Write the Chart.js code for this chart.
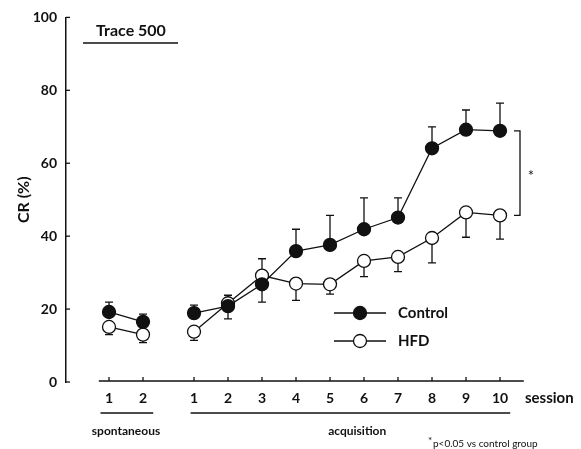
<!DOCTYPE html>
<html>
<head>
<meta charset="utf-8">
<script src="https://cdn.jsdelivr.net/npm/chart.js@4.4.1/dist/chart.umd.min.js"></script>
<style>
  html, body { margin: 0; padding: 0; background: #fff; }
  #wrap { width: 581px; height: 449px; }
</style>
</head>
<body>
<div id="wrap"><canvas id="crChart" width="581" height="449"></canvas></div>
<script>
// session labels and where they sit on the x scale (gap between the two phases)
const sessionLabels = ['1', '2', '1', '2', '3', '4', '5', '6', '7', '8', '9', '10'];
const sessionPos = [0, 1, 2.5, 3.5, 4.5, 5.5, 6.5, 7.5, 8.5, 9.5, 10.5, 11.5];
const yTicks = [0, 20, 40, 60, 80, 100];

// CR (%) means, SEM, and which way the error bar is drawn (1 up, -1 down)
const controlMean = [19.2, 16.5, 18.9, 20.8, 26.8, 35.9, 37.6, 41.9, 45.1, 64.1, 69.2, 68.9];
const controlSem  = [2.7, 2.1, 2.2, 3.5, 4.9, 6.0, 8.1, 8.6, 5.4, 5.9, 5.4, 7.6];
const controlDir  = [1, 1, 1, -1, -1, 1, 1, 1, 1, 1, 1, 1];

const hfdMean = [15.1, 13.0, 13.8, 21.6, 29.2, 27.0, 26.8, 33.2, 34.3, 39.5, 46.5, 45.7];
const hfdSem  = [2.1, 2.2, 2.4, 2.2, 4.6, 4.6, 2.7, 4.3, 4.0, 6.8, 6.8, 6.5];
const hfdDir  = [-1, -1, -1, 1, 1, -1, -1, -1, -1, -1, -1, -1];

const FONT = 'Lato, "Open Sans", sans-serif';
const INK = '#111';

// points with a null between the spontaneous and acquisition phases so the line breaks
function toPoints(means) {
  const pts = [];
  means.forEach((v, i) => {
    if (i === 2) pts.push({ x: (sessionPos[1] + sessionPos[2]) / 2, y: null });
    pts.push({ x: sessionPos[i], y: v });
  });
  return pts;
}

const series = [
  { label: 'Control', mean: controlMean, sem: controlSem, dir: controlDir, fill: INK },
  { label: 'HFD', mean: hfdMean, sem: hfdSem, dir: hfdDir, fill: '#fff' }
];

const decorations = {
  id: 'decorations',
  beforeDatasetsDraw(chart) {
    const { ctx, scales: { x, y } } = chart;
    ctx.save();
    ctx.strokeStyle = INK;
    ctx.lineWidth = 1.3;
    // error bars (caps), under the markers
    series.forEach(s => {
      s.mean.forEach((m, i) => {
        const px = x.getPixelForValue(sessionPos[i]);
        const y0 = y.getPixelForValue(m);
        const y1 = y.getPixelForValue(m + s.dir[i] * s.sem[i]);
        ctx.beginPath();
        ctx.moveTo(px, y0); ctx.lineTo(px, y1);
        ctx.moveTo(px - 4, y1); ctx.lineTo(px + 4, y1);
        ctx.stroke();
      });
    });
    ctx.restore();
  },
  afterDraw(chart) {
    const { ctx, chartArea, scales: { x, y } } = chart;
    ctx.save();
    ctx.strokeStyle = INK;
    ctx.fillStyle = INK;
    ctx.lineWidth = 1.3;

    // y ticks pointing inward
    yTicks.forEach(t => {
      const py = y.getPixelForValue(t);
      ctx.beginPath();
      ctx.moveTo(chartArea.left, py); ctx.lineTo(chartArea.left + 4, py);
      ctx.stroke();
    });

    // detached x axis line with ticks pointing up
    const axY = chartArea.bottom - 1;
    ctx.beginPath();
    ctx.moveTo(x.getPixelForValue(-0.3), axY);
    ctx.lineTo(x.getPixelForValue(12.2), axY);
    ctx.stroke();
    sessionPos.forEach(p => {
      const px = x.getPixelForValue(p);
      ctx.beginPath();
      ctx.moveTo(px, axY); ctx.lineTo(px, axY - 4);
      ctx.stroke();
    });

    // phase underlines and names
    const lineY = 413;
    ctx.beginPath();
    ctx.moveTo(x.getPixelForValue(-0.25), lineY); ctx.lineTo(x.getPixelForValue(1.3), lineY);
    ctx.moveTo(x.getPixelForValue(2.4), lineY); ctx.lineTo(x.getPixelForValue(11.8), lineY);
    ctx.stroke();
    ctx.textAlign = 'center';
    ctx.textBaseline = 'middle';
    ctx.font = 'bold 12px ' + FONT;
    ctx.fillText('spontaneous', x.getPixelForValue(0.5), 431);
    ctx.fillText('acquisition', x.getPixelForValue(7.3), 431);

    ctx.font = 'bold 15px ' + FONT;
    ctx.textAlign = 'left';
    ctx.fillText('session', 525, 398);

    // footnote
    ctx.font = '10px ' + FONT;
    ctx.fillText('*', 428, 441);
    ctx.fillText('p<0.05 vs control group', 433, 444);

    // "Trace 500" heading
    ctx.font = 'bold 16px ' + FONT;
    ctx.textAlign = 'center';
    ctx.fillText('Trace 500', 131, 31);
    ctx.beginPath();
    ctx.moveTo(83, 43); ctx.lineTo(178, 43);
    ctx.stroke();

    // significance bracket between the last points
    const last = sessionPos.length - 1;
    const bx = 520;
    const bt = y.getPixelForValue(controlMean[last]);
    const bb = y.getPixelForValue(hfdMean[last]);
    ctx.beginPath();
    ctx.moveTo(bx - 6, bt); ctx.lineTo(bx, bt); ctx.lineTo(bx, bb); ctx.lineTo(bx - 6, bb);
    ctx.stroke();
    ctx.font = '15px ' + FONT;
    ctx.fillText('*', 531, (bt + bb) / 2 + 3);

    // legend
    series.forEach((s, i) => {
      const ly = 313 + i * 28;
      ctx.beginPath();
      ctx.moveTo(334, ly); ctx.lineTo(386, ly);
      ctx.stroke();
      ctx.beginPath();
      ctx.arc(360, ly, 6.5, 0, Math.PI * 2);
      ctx.fillStyle = s.fill;
      ctx.fill();
      ctx.stroke();
      ctx.fillStyle = INK;
      ctx.font = 'bold 15px ' + FONT;
      ctx.textAlign = 'left';
      ctx.fillText(s.label, 398, ly);
    });
    ctx.restore();
  }
};

new Chart(document.getElementById('crChart'), {
  type: 'line',
  data: {
    datasets: series.map(s => ({
      label: s.label,
      data: toPoints(s.mean),
      borderColor: INK,
      borderWidth: 1.3,
      pointRadius: 6.5,
      pointBorderWidth: 1.3,
      pointBackgroundColor: s.fill,
      pointBorderColor: INK,
      spanGaps: false,
      tension: 0
    }))
  },
  options: {
    responsive: false,
    animation: false,
    layout: { padding: { left: 0, top: 12, right: 30, bottom: 0 } },
    plugins: {
      legend: { display: false },
      tooltip: { enabled: false }
    },
    scales: {
      x: {
        type: 'linear',
        min: -1.265,
        max: 13,
        afterBuildTicks: axis => { axis.ticks = sessionPos.map(v => ({ value: v })); },
        afterFit: axis => { axis.height = 67; },
        ticks: {
          autoSkip: false,
          maxRotation: 0,
          padding: 8,
          color: INK,
          font: { family: FONT, size: 14, weight: 'bold' },
          callback: (val, idx) => sessionLabels[idx]
        },
        grid: { display: false, drawTicks: false },
        border: { display: false }
      },
      y: {
        min: 0,
        max: 100,
        afterBuildTicks: axis => { axis.ticks = yTicks.map(v => ({ value: v })); },
        afterFit: axis => { axis.width = 66; },
        ticks: {
          padding: 9,
          color: INK,
          font: { family: FONT, size: 14, weight: 'bold' }
        },
        grid: { display: false, drawTicks: false },
        border: { display: true, color: INK, width: 1.5 },
        title: {
          display: true,
          text: 'CR (%)',
          color: INK,
          padding: { top: 14, bottom: 0 },
          font: { family: FONT, size: 16, weight: 'bold' }
        }
      }
    }
  },
  plugins: [decorations]
});
</script>
</body>
</html>
